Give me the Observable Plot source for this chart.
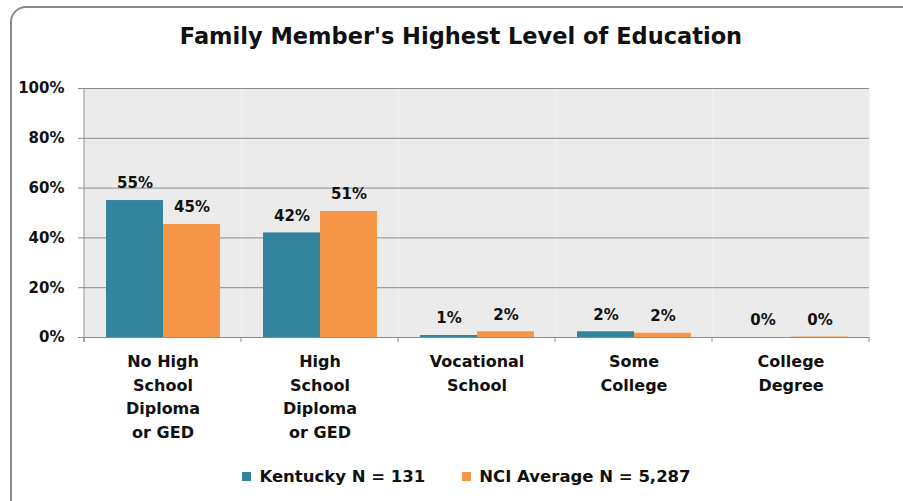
<!DOCTYPE html>
<html>
<head>
<meta charset="utf-8">
<script src="https://cdn.jsdelivr.net/npm/d3@7"></script>
<script src="https://cdn.jsdelivr.net/npm/@observablehq/plot@0.6"></script>
<style>
  html, body { margin: 0; padding: 0; background: #fff; }
  #wrap { position: relative; width: 903px; height: 501px; overflow: hidden; font-family: "DejaVu Sans", sans-serif; }
  #border { position: absolute; left: 10px; top: 6px; width: 910px; height: 520px; border: 2px solid #8a8a8a; border-radius: 16px; pointer-events: none; }
  #title { position: absolute; left: 0; width: 922px; top: 23px; text-align: center; font-weight: 700; font-size: 22.5px; color: #111; }
  #chart { position: absolute; left: 0; top: 0; }
  #legend { position: absolute; left: 0; width: 933px; top: 467px; display: flex; justify-content: center; gap: 37px; font-weight: 700; font-size: 16.5px; color: #111; }
  .item { display: flex; align-items: center; gap: 8px; }
  .sw { width: 9px; height: 9px; display: inline-block; }
</style>
</head>
<body>
<div id="wrap">
  <div id="title"></div>
  <div id="chart"></div>
  <div id="legend"></div>
  <div id="border"></div>
</div>
<script>
const title = "Family Member's Highest Level of Education";
const categories = ["No High School Diploma or GED", "High School Diploma or GED", "Vocational School", "Some College", "College Degree"];
const categoryLabels = ["No High\nSchool\nDiploma\nor GED", "High\nSchool\nDiploma\nor GED", "Vocational\nSchool", "Some\nCollege", "College\nDegree"];
const series = ["Kentucky N = 131", "NCI Average N = 5,287"];
const kentucky = [55, 42, 0.8, 2.3, 0];
const nciAverage = [45.4, 50.6, 2.3, 1.7, 0.2];
const colors = ["#31849B", "#F79646"];
const yTicks = [0, 20, 40, 60, 80, 100];

const data = [];
categories.forEach((c, i) => {
  data.push({category: c, series: series[0], value: kentucky[i]});
  data.push({category: c, series: series[1], value: nciAverage[i]});
});
const labelOf = new Map(categories.map((c, i) => [c, categoryLabels[i]]));

document.getElementById("title").textContent = title;

const gridColor = "#8c8c8c";
const font = "'DejaVu Sans', sans-serif";
const chart = Plot.plot({
  width: 903,
  height: 450,
  marginLeft: 82,
  marginRight: 32,
  marginTop: 88,
  marginBottom: 113,
  style: {background: "transparent", fontFamily: font, fontWeight: 700, color: "#111"},
  fx: {domain: categories, padding: 0, label: null},
  x: {domain: series, paddingInner: 0, paddingOuter: 0.372, axis: null},
  y: {domain: [0, 100], ticks: yTicks, label: null},
  color: {domain: series, range: colors},
  marks: [
    Plot.frame({fill: "#ebebeb", stroke: null}),
    Plot.gridY(yTicks.filter(d => d > 0), {stroke: gridColor, strokeOpacity: 1}),
    Plot.axisY(yTicks, {tickSize: 6, tickPadding: 14, stroke: gridColor, fill: "#111", fontSize: 15, fontWeight: 700, tickFormat: d => d + "%"}),
    Plot.barY(data, {fx: "category", x: "series", y: "value", fill: "series"}),
    Plot.ruleY([0], {stroke: gridColor}),
    Plot.text(data, {fx: "category", x: "series", y: "value", text: d => Math.round(d.value) + "%", dy: -17, fontSize: 15, fontWeight: 700, fill: "#111"}),
    Plot.axisFx({anchor: "bottom", tickSize: 0, tickPadding: 13, fontSize: 16, fontWeight: 700, lineHeight: 1.47, lineAnchor: "top", fill: "#111", tickFormat: d => labelOf.get(d)})
  ]
});
document.getElementById("chart").appendChild(chart);

// left axis line and category boundary ticks from the plot's own scales
const fx = chart.scale("fx"), y = chart.scale("y");
const svg = d3.select(chart);
const g = svg.append("g").attr("stroke", gridColor);
const y0 = y.apply(0), y1 = y.apply(100);
const edges = categories.map(c => fx.apply(c)).concat([fx.apply(categories[categories.length - 1]) + fx.bandwidth]);
g.append("line").attr("x1", edges[0]).attr("x2", edges[0]).attr("y1", y1).attr("y2", y0 + 5);
edges.forEach(x => g.append("line").attr("x1", x).attr("x2", x).attr("y1", y0).attr("y2", y0 + 5));

const legend = d3.select("#legend");
series.forEach((s, i) => {
  const it = legend.append("div").attr("class", "item");
  it.append("span").attr("class", "sw").style("background", colors[i]);
  it.append("span").text(s);
});
</script>
</body>
</html>
